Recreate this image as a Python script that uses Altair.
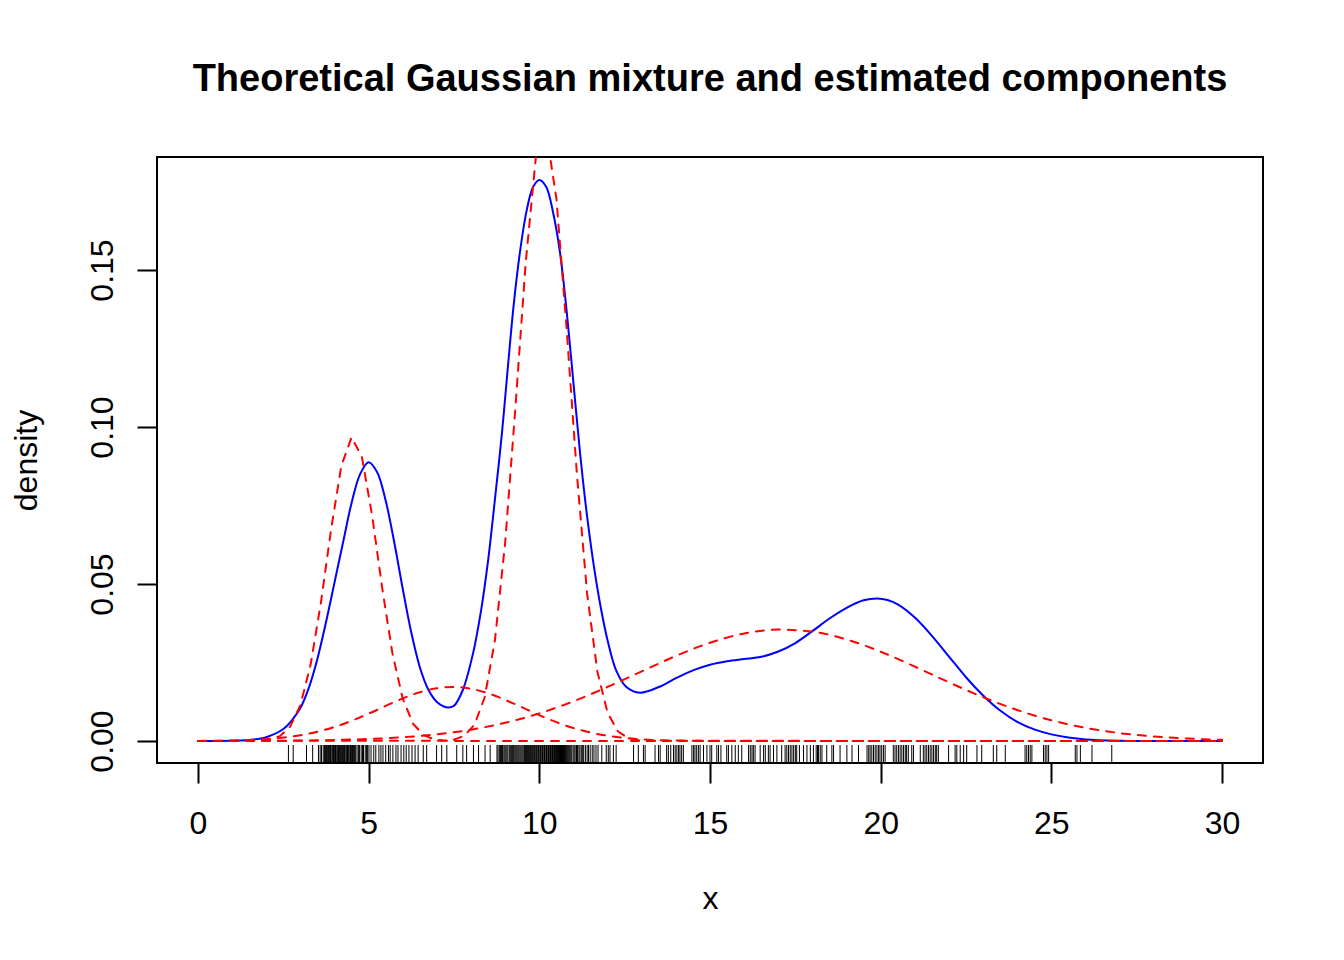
import altair as alt
import pandas as pd

FONT = "Liberation Sans"

# Theoretical mixture density (blue)
blue_x = [0, 1.0, 1.5, 2.0, 2.5, 2.75, 3.0, 3.25, 3.5, 3.75, 4.0, 4.25, 4.5, 4.75, 5.0, 5.25, 5.5, 5.75, 6.0,
          6.25, 6.5, 6.75, 7.0, 7.2, 7.35, 7.5, 7.75, 8.05, 8.3, 8.5, 8.7, 8.9, 9.07, 9.25, 9.43, 9.63, 9.82,
          10.0, 10.2, 10.4, 10.6, 10.8, 11.0, 11.2, 11.4, 11.6, 11.8, 12.0, 12.25, 12.55, 12.95, 13.5, 14.0,
          14.5, 15.0, 15.5, 16.0, 16.5, 17.0, 17.5, 18.0, 18.5, 19.0, 19.5, 19.9, 20.2, 20.5, 21.0, 21.5,
          22.0, 22.5, 23.0, 23.5, 24.0, 24.5, 25.0, 25.5, 26.0, 27.0, 28.0, 30.0]
blue_y = [0, 0.0001, 0.0003, 0.0012, 0.0038, 0.0066, 0.0105, 0.0170, 0.0262, 0.0378, 0.0505, 0.0632, 0.0758,
          0.0850, 0.0888, 0.0856, 0.0765, 0.0633, 0.0484, 0.0345, 0.0235, 0.0163, 0.0124, 0.0110, 0.0107,
          0.0112, 0.0160, 0.0275, 0.0420, 0.0575, 0.0770, 0.0975, 0.1180, 0.1390, 0.1555, 0.1690, 0.1765,
          0.1787, 0.1765, 0.1685, 0.1560, 0.1370, 0.1140, 0.0910, 0.0715, 0.0555, 0.0425, 0.0320, 0.0225,
          0.0172, 0.0154, 0.0172, 0.0200, 0.0225, 0.0243, 0.0254, 0.0261, 0.0268, 0.0285, 0.0312, 0.0350,
          0.0390, 0.0424, 0.0448, 0.0454, 0.0449, 0.0435, 0.0393, 0.0335, 0.0269, 0.0203, 0.0145, 0.0097,
          0.0061, 0.0037, 0.0021, 0.0011, 0.0005, 0.0001, 0.0000, 0]

# Estimated components (red dashed)
c1_x = [0, 1.8, 2.1, 2.4, 2.7, 3.0, 3.3, 3.6, 3.9, 4.2, 4.5, 4.8, 5.1, 5.4, 5.7, 6.0, 6.3, 6.6, 6.9, 7.2, 7.5, 30]
c1_y = [0, 0.0001, 0.00044, 0.00154, 0.00455, 0.01141, 0.02433, 0.04393, 0.06738, 0.08764, 0.09672, 0.09057,
        0.07196, 0.0485, 0.02773, 0.01346, 0.00554, 0.00194, 0.00057, 0.00014, 0.00003, 0]

c2_x = [0, 7.2, 7.5, 7.8, 8.1, 8.4, 8.7, 9.0, 9.3, 9.6, 9.9, 10.2, 10.5, 10.8, 11.1, 11.4, 11.7, 12.0, 12.3,
        12.6, 12.9, 13.2, 30]
c2_y = [0, 0.0001, 0.00044, 0.00163, 0.00515, 0.01393, 0.03214, 0.06324, 0.10623, 0.15222, 0.18612, 0.19416,
        0.17283, 0.13124, 0.08506, 0.047, 0.02217, 0.00893, 0.00306, 0.0009, 0.00022, 0.00005, 0]

c3_x = [0, 1, 2, 3, 4, 5, 5.5, 6, 6.5, 7, 7.5, 8, 8.5, 9, 9.5, 10, 10.5, 11, 12, 13, 14, 15, 16, 30]
c3_y = [0.00003, 0.00015, 0.00059, 0.00182, 0.00446, 0.00871, 0.01118, 0.01355, 0.01553, 0.01681, 0.0172,
        0.01662, 0.01518, 0.0131, 0.01068, 0.00823, 0.00599, 0.00412, 0.00165, 0.00052, 0.00013, 0.00003,
        0.00001, 0]

c4_x = list(range(0, 31))
c4_y = [0.00001, 0.00003, 0.00007, 0.00015, 0.00032, 0.00063, 0.00119, 0.00213, 0.00361, 0.00579, 0.00879,
        0.01265, 0.01722, 0.02218, 0.02708, 0.03129, 0.03424, 0.03548, 0.03481, 0.03233, 0.02844, 0.02369,
        0.01868, 0.01395, 0.00987, 0.0066, 0.00419, 0.00251, 0.00143, 0.00077, 0.00039]

# Rug of the sample
rug_x = [2.65, 2.79, 3.18, 3.36, 3.53, 3.58, 3.62, 3.67, 3.71,
         3.73, 3.75, 3.77, 3.79, 3.82, 3.84, 3.86, 3.88, 3.90, 3.93, 3.95, 3.97, 3.99, 4.01, 4.03, 4.05,
         4.08, 4.10, 4.12, 4.14, 4.16, 4.18, 4.21, 4.23, 4.25, 4.27, 4.29, 4.31, 4.34, 4.36, 4.38, 4.40,
         4.42, 4.45, 4.47, 4.49, 4.51, 4.53, 4.55, 4.57, 4.59,
         4.62, 4.66, 4.70, 4.73, 4.78, 4.82, 4.85, 4.90, 4.94, 4.97, 5.01,
         5.07, 5.15, 5.21, 5.30, 5.36, 5.42, 5.50, 5.58, 5.63, 5.71, 5.80, 5.86, 5.95, 6.03, 6.10, 6.18,
         6.27, 6.36, 6.45, 6.60, 6.70, 6.99, 7.14, 7.29, 7.58, 7.76, 7.87, 8.07, 8.22, 8.41, 8.56,
         8.76, 8.79, 8.83, 8.86, 8.89, 8.92, 8.96, 8.99, 9.02, 9.05, 9.08, 9.12, 9.15, 9.18, 9.21, 9.24,
         9.28, 9.31, 9.34, 9.37, 9.40, 9.43, 9.46, 9.49, 9.52,
         9.55, 9.57, 9.60, 9.61, 9.63, 9.66, 9.67, 9.69, 9.72, 9.73, 9.75, 9.78, 9.79, 9.81, 9.84, 9.85,
         9.87, 9.90, 9.91, 9.93, 9.96, 9.97, 9.99, 10.02, 10.03, 10.05, 10.08, 10.09, 10.11, 10.14, 10.15,
         10.17, 10.20, 10.21, 10.23, 10.26, 10.27, 10.29, 10.32, 10.33, 10.35, 10.38, 10.39, 10.41, 10.44,
         10.45, 10.47, 10.50, 10.51, 10.53, 10.56, 10.57, 10.59, 10.62, 10.63, 10.65, 10.68, 10.69, 10.71,
         10.74, 10.75, 10.77, 10.80, 10.83, 10.86, 10.89,
         10.92, 10.95, 10.99, 11.02, 11.05, 11.09, 11.12, 11.16, 11.19, 11.23, 11.27, 11.30, 11.35, 11.40,
         11.44, 11.49, 11.55, 11.60, 11.66, 11.72,
         11.83, 11.96, 12.02, 12.07, 12.17, 12.25, 12.76, 12.90, 13.05, 13.10, 13.39, 13.49, 13.54, 13.73,
         13.78, 13.85, 13.93, 13.98, 14.03, 14.08, 14.12, 14.17, 14.22, 14.47, 14.52, 14.56, 14.61, 14.66,
         14.71, 14.81, 14.91, 15.00, 15.05, 15.20, 15.25, 15.32, 15.49, 15.54, 15.64, 15.74, 15.83, 15.93,
         16.13, 16.18, 16.23, 16.27, 16.32, 16.47, 16.57, 16.62, 16.71, 16.76, 16.86, 16.96, 17.10, 17.20,
         17.25, 17.30, 17.35, 17.40, 17.45, 17.50, 17.54, 17.62, 17.74, 17.84, 17.94, 18.03, 18.11, 18.15,
         18.18, 18.23, 18.28, 18.42, 18.57, 18.62, 18.81, 19.01, 19.16, 19.35, 19.60, 19.65, 19.69, 19.74,
         19.79, 19.84, 19.89, 19.94, 19.98, 20.03, 20.08, 20.13, 20.37, 20.42, 20.47, 20.52, 20.57, 20.62,
         20.67, 20.72, 20.76, 20.81, 20.91, 20.96, 21.16, 21.25, 21.30, 21.35, 21.40, 21.45, 21.50, 21.55,
         21.60, 21.64, 21.69, 21.99, 22.18, 22.23, 22.33, 22.43, 22.52, 22.82, 22.96, 23.30, 23.40, 23.65,
         24.23, 24.28, 24.33, 24.38, 24.43, 24.77, 24.82, 24.87, 24.92, 25.70, 25.75, 25.85, 26.19, 26.77]

x_ticks = [0, 5, 10, 15, 20, 25, 30]
y_ticks = [0, 0.05, 0.10, 0.15]

blue_df = pd.DataFrame({"x": blue_x, "y": blue_y})
narrow_df = pd.concat([
    pd.DataFrame({"x": c1_x, "y": c1_y, "comp": "c1"}),
    pd.DataFrame({"x": c2_x, "y": c2_y, "comp": "c2"}),
])
broad_df = pd.concat([
    pd.DataFrame({"x": c3_x, "y": c3_y, "comp": "c3"}),
    pd.DataFrame({"x": c4_x, "y": c4_y, "comp": "c4"}),
])
rug_df = pd.DataFrame({"x": rug_x})

xs = alt.Scale(domain=[-1.2, 31.2], nice=False, zero=False)
ys = alt.Scale(domain=[-0.00701, 0.18599], nice=False, zero=False)

x_axis = alt.Axis(values=x_ticks, title="x", domain=False, grid=False, tickSize=20, tickWidth=2,
                  tickColor="black", labelFont=FONT, labelFontSize=32, labelColor="black",
                  labelPadding=50, labelBaseline="alphabetic", labelFlush=False, labelOverlap=False,
                  titleFont=FONT, titleFontSize=32, titleFontWeight="normal", titleColor="black",
                  titleX=553, titleY=145, titleAlign="center", titleBaseline="alphabetic")
y_axis = alt.Axis(values=y_ticks, format=".2f", title="density", domain=False, grid=False, tickSize=20,
                  tickWidth=2, tickColor="black", labelFont=FONT, labelFontSize=32, labelColor="black",
                  labelAngle=270, labelAlign="center", labelBaseline="alphabetic", labelPadding=25,
                  labelFlush=False, labelOverlap=False,
                  titleFont=FONT, titleFontSize=32, titleFontWeight="normal", titleColor="black",
                  titleAngle=270, titleX=-121, titleY=303, titleAlign="center", titleBaseline="alphabetic")

X = alt.X("x:Q", scale=xs, axis=x_axis)
Y = alt.Y("y:Q", scale=ys, axis=y_axis)

blue = alt.Chart(blue_df).mark_line(color="#0000FF", strokeWidth=2, interpolate="catmull-rom",
                                    clip=True, strokeCap="round").encode(x=X, y=Y)
red_narrow = alt.Chart(narrow_df).mark_line(color="#FF0000", strokeWidth=2, strokeDash=[8, 8],
                                            strokeCap="round", clip=True).encode(x=X, y=Y, detail="comp:N")
red_broad = alt.Chart(broad_df).mark_line(color="#FF0000", strokeWidth=2, strokeDash=[8, 8],
                                          strokeCap="round", interpolate="monotone",
                                          clip=True).encode(x=X, y=Y, detail="comp:N")
rug = alt.Chart(rug_df).mark_rule(color="black", strokeWidth=1).encode(
    x=X, y=alt.value(588), y2=alt.value(606))

chart = alt.layer(blue, red_narrow, red_broad, rug).properties(
    width=1106, height=606,
    padding={"left": 149, "top": 149, "right": 60, "bottom": 180},
    autosize=alt.AutoSizeParams(type="none"),
    background="white",
    title=alt.TitleParams("Theoretical Gaussian mixture and estimated components", font=FONT,
                          fontSize=38, fontWeight="bold", anchor="middle", baseline="alphabetic",
                          offset=28, color="black"),
).configure_view(stroke="black", strokeWidth=2)

chart.save("out.html", embed_options={"renderer": "svg", "actions": False})
